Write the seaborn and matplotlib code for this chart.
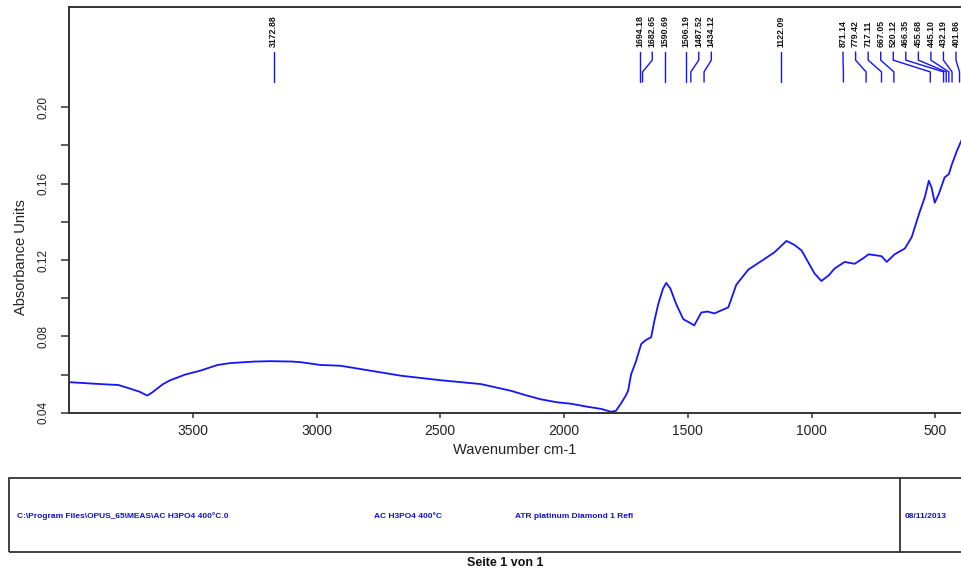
import matplotlib
matplotlib.use("Agg")
import matplotlib.pyplot as plt
import matplotlib.transforms as mtransforms
from matplotlib.patches import Rectangle
from matplotlib.lines import Line2D
from matplotlib.ticker import FixedLocator, NullFormatter
import seaborn as sns
import pandas as pd

# ---------------- data ----------------
wavenumber = [4000, 3874, 3800, 3753, 3715, 3700, 3684, 3665, 3650, 3620, 3591, 3530, 3470,
              3400, 3348, 3250, 3186, 3100, 3065, 2984, 2903, 2781, 2660, 2498,
              2336, 2215, 2150, 2093, 2030, 1972, 1900, 1850, 1810, 1790, 1769, 1750,
              1741, 1729, 1709, 1688, 1670, 1648, 1635, 1619, 1600, 1587, 1570,
              1547, 1518, 1490, 1474, 1445, 1420, 1393, 1336, 1304, 1255, 1202,
              1150, 1101, 1070, 1040, 988, 960, 930, 907, 866, 826, 790, 769,
              717, 696, 664, 623, 595, 566, 542, 526, 515, 502, 486, 462, 445,
              433, 413, 393, 385, 370]
absorbance = [0.056, 0.055, 0.0545, 0.0526, 0.051, 0.050, 0.049, 0.0505, 0.052, 0.055, 0.057, 0.060, 0.062,
              0.065, 0.066, 0.0668, 0.067, 0.0668, 0.0665, 0.065, 0.0646, 0.062, 0.0594, 0.057,
              0.055, 0.0515, 0.049, 0.047, 0.0455, 0.0447, 0.043, 0.042, 0.0405, 0.041, 0.045, 0.049,
              0.0515, 0.060, 0.067, 0.076, 0.078, 0.0795, 0.088, 0.097, 0.105, 0.108, 0.105,
              0.097, 0.089, 0.087, 0.0857, 0.0925, 0.093, 0.092, 0.0952, 0.107, 0.115, 0.1195,
              0.124, 0.130, 0.128, 0.125, 0.113, 0.109, 0.112, 0.1155, 0.119, 0.118, 0.121, 0.123,
              0.122, 0.119, 0.123, 0.126, 0.132, 0.144, 0.153, 0.1615, 0.158, 0.150, 0.1545, 0.1633, 0.165,
              0.170, 0.177, 0.183, 0.186, 0.192]

peak_wn = [3172.88, 1694.18, 1682.65, 1590.69, 1506.19, 1487.52, 1434.12, 1122.09,
           871.14, 779.42, 717.11, 667.05, 520.12, 466.35, 455.68, 445.10, 432.19, 401.86]

x_ticks = [3500, 3000, 2500, 2000, 1500, 1000, 500]
y_major = [0.04, 0.08, 0.12, 0.16, 0.20]
y_minor = [0.06, 0.10, 0.14, 0.18]

x_label = "Wavenumber cm-1"
y_label = "Absorbance Units"
footer_path = "C:\\Program Files\\OPUS_65\\MEAS\\AC H3PO4 400\u00b0C.0"
footer_sample = "AC H3PO4 400\u00b0C"
footer_method = "ATR platinum Diamond 1 Refl"
footer_date = "08/11/2013"
page_text = "Seite 1 von 1"

# ---------------- style ----------------
sns.set_style("ticks")
plt.rcParams["font.family"] = ["Liberation Sans", "DejaVu Sans"]

W, H = 962, 571
fig = plt.figure(figsize=(W / 100, H / 100), dpi=100)
XMAX, XMIN = 4000, 360
PX_PER_WN = 0.2475
ax_left, ax_top, ax_bottom = 69, 7, 412.7
ax_right = ax_left + (XMAX - XMIN) * PX_PER_WN
ax = fig.add_axes([ax_left / W, (H - ax_bottom) / H, (ax_right - ax_left) / W, (ax_bottom - ax_top) / H])

blue = "#1414ff"
df = pd.DataFrame({"wn": wavenumber, "abs": absorbance})
sns.lineplot(data=df, x="wn", y="abs", ax=ax, color=blue, linewidth=1.3,
             estimator=None, sort=False)

ax.set_xlim(XMAX, XMIN)
ax.set_ylim(0.04, 0.04 + (ax_bottom - ax_top) / 1908.75)

for s in ["left", "top", "bottom", "right"]:
    ax.spines[s].set_color("#333333")
    ax.spines[s].set_linewidth(1.4)

ax.xaxis.set_major_locator(FixedLocator(x_ticks))
ax.set_xticklabels([str(t) for t in x_ticks])
ax.yaxis.set_major_locator(FixedLocator(y_major))
ax.yaxis.set_minor_locator(FixedLocator(y_minor))
ax.yaxis.set_minor_formatter(NullFormatter())
ax.set_yticklabels([f"{v:.2f}" for v in y_major])

ax.tick_params(axis="x", which="major", direction="out", length=3.8, width=1.1,
               color="#333333", labelsize=10, pad=4.5, labelcolor="#222222")
ax.tick_params(axis="y", which="both", direction="out", length=5.8, width=1.1,
               color="#333333", labelsize=8.5, pad=8, labelcolor="#222222")
for lab in ax.get_yticklabels():
    lab.set_rotation(90)
    lab.set_va("center")
    lab.set_ha("right")

ax.set_xlabel(x_label, fontsize=10.5, color="#222222")
ax.xaxis.set_label_coords(0.495, -0.075)
ax.set_ylabel(y_label, fontsize=10.5, color="#222222")
ax.yaxis.set_label_coords(-0.046, 0.384)

# ---------------- peak labels with leader lines ----------------
trans = mtransforms.blended_transform_factory(ax.transData, ax.transAxes)
gap = 12.55 / PX_PER_WN  # label spacing in wavenumber units
right_limit = XMAX - (956 - ax_left) / PX_PER_WN  # rightmost label position that stays on the page
order = sorted(range(len(peak_wn)), key=lambda i: -peak_wn[i])
pos = [peak_wn[i] for i in order]
labpos = pos[:]
for k in range(1, len(labpos)):
    labpos[k] = min(labpos[k], labpos[k - 1] - gap)
labpos[-1] = max(labpos[-1], right_limit)
for k in range(len(labpos) - 2, -1, -1):
    labpos[k] = max(labpos[k], labpos[k + 1] + gap)

y_top, y_k1, y_k2, y_bot = 0.889, 0.869, 0.840, 0.815
for p, lp in zip(pos, labpos):
    ax.add_line(Line2D([lp, lp, p, p], [y_top, y_k1, y_k2, y_bot], transform=trans,
                       color=blue, linewidth=1.0, clip_on=False))
    ax.text(lp, 0.901, f"{p:.2f}", rotation=90, ha="center", va="bottom",
            transform=trans, fontsize=6.3, fontweight="bold", color="#111111",
            clip_on=False)

# ---------------- footer ----------------
box_l, box_t, box_b = 9, 478, 552
fig.add_artist(Rectangle((box_l / W, (H - box_b) / H), 1.2, (box_b - box_t) / H,
                         transform=fig.transFigure, fill=False, edgecolor="#333333",
                         linewidth=1.3))
fig.add_artist(Line2D([900 / W, 900 / W], [(H - box_b) / H, (H - box_t) / H],
                      transform=fig.transFigure, color="#333333", linewidth=1.3))
fy = (H - 516) / H
fkw = dict(fontsize=6, fontweight="bold", color="#1010d0", va="center", ha="left")
fig.text(17 / W, fy, footer_path, **fkw)
fig.text(374 / W, fy, footer_sample, **fkw)
fig.text(515 / W, fy, footer_method, **fkw)
fig.text(905 / W, fy, footer_date, **fkw)
fig.text(505 / W, (H - 563) / H, page_text, fontsize=9, fontweight="bold",
         color="#111111", ha="center", va="center")

fig.savefig("out.png", dpi=100)
